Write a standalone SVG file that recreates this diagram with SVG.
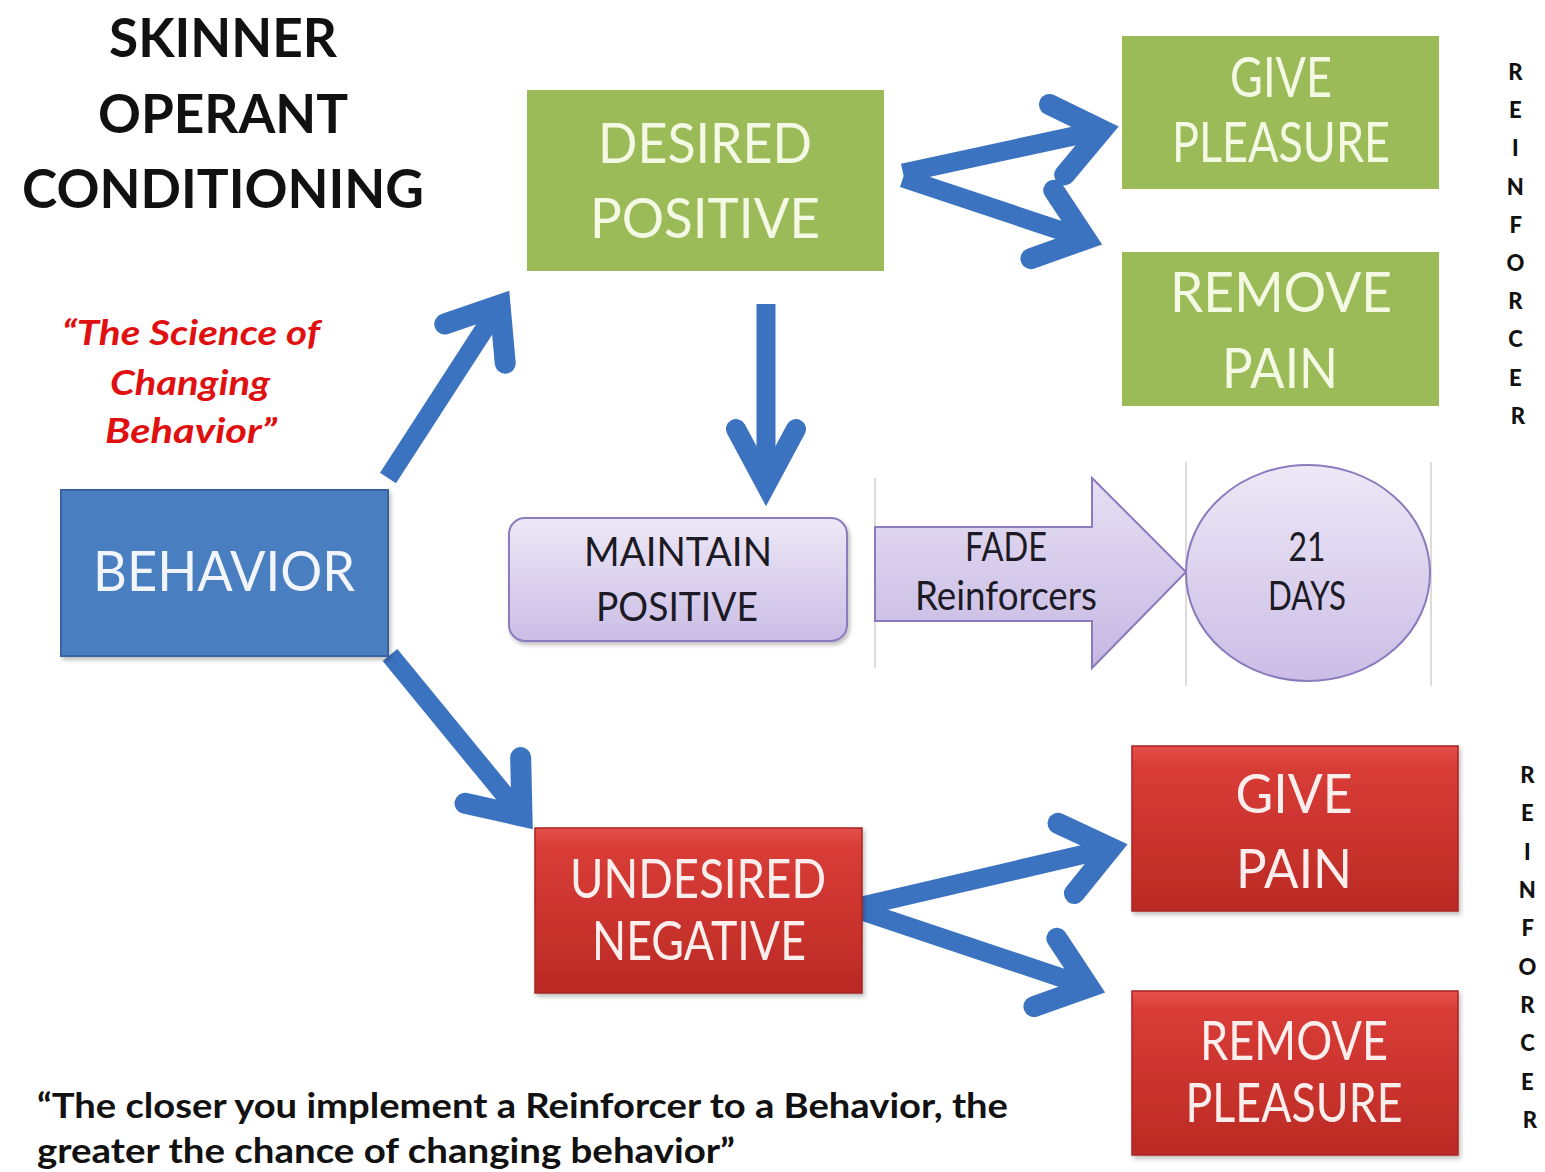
<svg xmlns="http://www.w3.org/2000/svg" width="1545" height="1172" viewBox="0 0 1545 1172">
  <defs>
    <style>
      .t { font-family: Lato, "Open Sans", "Liberation Sans", sans-serif; }
      .title { font-weight: 700; font-size: 54px; fill: #111; }
      .slogan { font-weight: 700; font-style: italic; font-size: 35px; fill: #e01010; }
      .quote { font-weight: 700; font-size: 34px; fill: #111; }
      .lbl-g { font-size: 56px; fill: #f4f9e4; }
      .lbl-b { font-size: 56px; fill: #f2f6fc; }
      .lbl-r { font-size: 54px; fill: #fdeeee; }
      .lbl-p { font-size: 41px; fill: #1c1a24; }
      .vert { font-weight: 900; font-size: 22px; fill: #111; }
      .arrow { fill: none; stroke: #3b73c0; stroke-width: 19; }
      .guide { stroke: #c4c4c4; stroke-width: 1.2; }
    </style>
    <marker id="chev" markerUnits="userSpaceOnUse" viewBox="-80 -70 100 140" refX="0" refY="0" markerWidth="100" markerHeight="140" orient="auto" overflow="visible">
      <path d="M-46,-36 L0,0 L-46,36" fill="none" stroke="#3b73c0" stroke-width="21" stroke-linecap="round" stroke-linejoin="miter" stroke-miterlimit="10"/>
    </marker>
    <marker id="chev-narrow" markerUnits="userSpaceOnUse" viewBox="-80 -70 100 140" refX="0" refY="0" markerWidth="100" markerHeight="140" orient="auto" overflow="visible">
      <path d="M-56,-30 L0,0 L-56,30" fill="none" stroke="#3b73c0" stroke-width="20" stroke-linecap="round" stroke-linejoin="miter" stroke-miterlimit="10"/>
    </marker>
    <linearGradient id="redFill" x1="0" y1="0" x2="0" y2="1">
      <stop offset="0" stop-color="#e5514b"/>
      <stop offset="0.12" stop-color="#d93c36"/>
      <stop offset="1" stop-color="#bb2a25"/>
    </linearGradient>
    <linearGradient id="lilacFill" x1="0" y1="0" x2="0" y2="1">
      <stop offset="0" stop-color="#ede8f6"/>
      <stop offset="1" stop-color="#cbbde6"/>
    </linearGradient>
    <linearGradient id="lilacArrow" x1="0" y1="0" x2="0" y2="1">
      <stop offset="0" stop-color="#e6dff3"/>
      <stop offset="1" stop-color="#c6b7e3"/>
    </linearGradient>
    <filter id="shadow" x="-5%" y="-5%" width="112%" height="115%">
      <feDropShadow dx="2" dy="3" stdDeviation="2" flood-color="#000" flood-opacity="0.25"/>
    </filter>
  </defs>

  <rect width="1545" height="1172" fill="#ffffff"/>

  <!-- Title -->
  <g id="title" class="t title" text-anchor="middle">
    <text x="223" y="57" textLength="228" lengthAdjust="spacingAndGlyphs">SKINNER</text>
    <text x="223" y="133" textLength="250" lengthAdjust="spacingAndGlyphs">OPERANT</text>
    <text x="223" y="208" textLength="402" lengthAdjust="spacingAndGlyphs">CONDITIONING</text>
  </g>

  <!-- Slogan -->
  <g id="slogan" class="t slogan" text-anchor="middle">
    <text x="191" y="345" textLength="258" lengthAdjust="spacingAndGlyphs">“The Science of</text>
    <text x="190" y="395" textLength="160" lengthAdjust="spacingAndGlyphs">Changing</text>
    <text x="191" y="443" textLength="172" lengthAdjust="spacingAndGlyphs">Behavior”</text>
  </g>

  <!-- Guide lines behind the fade sequence -->
  <g id="guides">
    <line class="guide" x1="875" y1="478" x2="875" y2="668"/>
    <line class="guide" x1="1186" y1="462" x2="1186" y2="686"/>
    <line class="guide" x1="1431" y1="462" x2="1431" y2="686"/>
  </g>

  <!-- Connectors -->
  <g id="connectors">
    <line class="arrow" x1="388" y1="478" x2="500" y2="305" marker-end="url(#chev)"/>
    <line class="arrow" x1="766" y1="304" x2="766" y2="485" stroke-width="16" marker-end="url(#chev-narrow)"/>
    <line class="arrow" x1="390" y1="655" x2="522" y2="816" marker-end="url(#chev)"/>
    <line class="arrow" x1="903" y1="173" x2="1102" y2="130" marker-end="url(#chev)"/>
    <line class="arrow" x1="903" y1="178" x2="1086" y2="239" marker-end="url(#chev)"/>
    <line class="arrow" x1="862" y1="906" x2="1111" y2="848" marker-end="url(#chev)"/>
    <line class="arrow" x1="862" y1="911" x2="1089" y2="987" marker-end="url(#chev)"/>
  </g>

  <!-- Behavior -->
  <g id="behavior">
    <rect x="61" y="490" width="327" height="166" fill="#4a7fc1" stroke="#3a62a0" stroke-width="2" filter="url(#shadow)"/>
    <text class="t lbl-b" x="224" y="591" text-anchor="middle" textLength="262" lengthAdjust="spacingAndGlyphs">BEHAVIOR</text>
  </g>

  <!-- Desired positive -->
  <g id="desired-positive">
    <rect x="527" y="90" width="357" height="181" fill="#9bbb59"/>
    <text class="t lbl-g" x="705" y="163" text-anchor="middle" textLength="214" lengthAdjust="spacingAndGlyphs">DESIRED</text>
    <text class="t lbl-g" x="705" y="238" text-anchor="middle" textLength="230" lengthAdjust="spacingAndGlyphs">POSITIVE</text>
  </g>

  <!-- Give pleasure -->
  <g id="give-pleasure">
    <rect x="1122" y="36" width="317" height="153" fill="#9bbb59"/>
    <text class="t lbl-g" x="1281" y="97" text-anchor="middle" font-size="49" textLength="102" lengthAdjust="spacingAndGlyphs">GIVE</text>
    <text class="t lbl-g" x="1281" y="162" text-anchor="middle" font-size="49" textLength="218" lengthAdjust="spacingAndGlyphs">PLEASURE</text>
  </g>

  <!-- Remove pain -->
  <g id="remove-pain">
    <rect x="1122" y="252" width="317" height="154" fill="#9bbb59"/>
    <text class="t lbl-g" x="1281" y="312" text-anchor="middle" textLength="222" lengthAdjust="spacingAndGlyphs">REMOVE</text>
    <text class="t lbl-g" x="1280" y="388" text-anchor="middle" textLength="116" lengthAdjust="spacingAndGlyphs">PAIN</text>
  </g>

  <!-- Reinforcer label (positive side) -->
  <g id="reinforcer-top">
    <text class="t vert" text-anchor="middle">
      <tspan x="1518" y="80">R</tspan>
      <tspan x="1518" y="118">E</tspan>
      <tspan x="1518" y="156">I</tspan>
      <tspan x="1518" y="195">N</tspan>
      <tspan x="1518" y="233">F</tspan>
      <tspan x="1518" y="271">O</tspan>
      <tspan x="1518" y="309">R</tspan>
      <tspan x="1518" y="347">C</tspan>
      <tspan x="1518" y="386">E</tspan>
      <tspan x="1518" y="424">R</tspan>
    </text>
  </g>

  <!-- Maintain positive -->
  <g id="maintain-positive">
    <rect x="509" y="518" width="338" height="123" rx="16" ry="16" fill="url(#lilacFill)" stroke="#8a7bbd" stroke-width="2" filter="url(#shadow)"/>
    <text class="t lbl-p" x="678" y="566" text-anchor="middle" textLength="188" lengthAdjust="spacingAndGlyphs">MAINTAIN</text>
    <text class="t lbl-p" x="677" y="621" text-anchor="middle" textLength="162" lengthAdjust="spacingAndGlyphs">POSITIVE</text>
  </g>

  <!-- Fade reinforcers -->
  <g id="fade-reinforcers">
    <path d="M875,527 L1092,527 L1092,478 L1186,572 L1092,668 L1092,621 L875,621 Z" fill="url(#lilacArrow)" stroke="#8a7bbd" stroke-width="2"/>
    <text class="t lbl-p" x="1006" y="561" text-anchor="middle" font-size="37" textLength="82" lengthAdjust="spacingAndGlyphs">FADE</text>
    <text class="t lbl-p" x="1006" y="610" text-anchor="middle" font-size="37" textLength="182" lengthAdjust="spacingAndGlyphs">Reinforcers</text>
  </g>

  <!-- 21 days -->
  <g id="twenty-one-days">
    <ellipse cx="1308" cy="573" rx="122" ry="108" fill="url(#lilacFill)" stroke="#8a7bbd" stroke-width="2"/>
    <text class="t lbl-p" x="1307" y="561" text-anchor="middle" font-size="37" textLength="37" lengthAdjust="spacingAndGlyphs">21</text>
    <text class="t lbl-p" x="1307" y="610" text-anchor="middle" font-size="37" textLength="78" lengthAdjust="spacingAndGlyphs">DAYS</text>
  </g>

  <!-- Undesired negative -->
  <g id="undesired-negative">
    <rect x="535" y="828" width="327" height="165" fill="url(#redFill)" stroke="#a82420" stroke-width="1.5" filter="url(#shadow)"/>
    <text class="t lbl-r" x="698" y="898" text-anchor="middle" font-size="50" textLength="256" lengthAdjust="spacingAndGlyphs">UNDESIRED</text>
    <text class="t lbl-r" x="699" y="960" text-anchor="middle" font-size="50" textLength="214" lengthAdjust="spacingAndGlyphs">NEGATIVE</text>
  </g>

  <!-- Give pain -->
  <g id="give-pain">
    <rect x="1132" y="746" width="326" height="165" fill="url(#redFill)" stroke="#a82420" stroke-width="1.5" filter="url(#shadow)"/>
    <text class="t lbl-r" x="1294" y="813" text-anchor="middle" textLength="117" lengthAdjust="spacingAndGlyphs">GIVE</text>
    <text class="t lbl-r" x="1294" y="888" text-anchor="middle" textLength="116" lengthAdjust="spacingAndGlyphs">PAIN</text>
  </g>

  <!-- Remove pleasure -->
  <g id="remove-pleasure">
    <rect x="1132" y="991" width="326" height="164" fill="url(#redFill)" stroke="#a82420" stroke-width="1.5" filter="url(#shadow)"/>
    <text class="t lbl-r" x="1294" y="1060" text-anchor="middle" font-size="49" textLength="188" lengthAdjust="spacingAndGlyphs">REMOVE</text>
    <text class="t lbl-r" x="1294" y="1122" text-anchor="middle" font-size="49" textLength="217" lengthAdjust="spacingAndGlyphs">PLEASURE</text>
  </g>

  <!-- Reinforcer label (negative side) -->
  <g id="reinforcer-bottom">
    <text class="t vert" text-anchor="middle">
      <tspan x="1530" y="783">R</tspan>
      <tspan x="1530" y="821">E</tspan>
      <tspan x="1530" y="860">I</tspan>
      <tspan x="1530" y="898">N</tspan>
      <tspan x="1530" y="936">F</tspan>
      <tspan x="1530" y="975">O</tspan>
      <tspan x="1530" y="1013">R</tspan>
      <tspan x="1530" y="1051">C</tspan>
      <tspan x="1530" y="1090">E</tspan>
      <tspan x="1530" y="1128">R</tspan>
    </text>
  </g>

  <!-- Closing quote -->
  <g id="closing-quote" class="t quote">
    <text x="37" y="1118" textLength="971" lengthAdjust="spacingAndGlyphs">“The closer you implement a Reinforcer to a Behavior, the</text>
    <text x="37" y="1163" textLength="698" lengthAdjust="spacingAndGlyphs">greater the chance of changing behavior”</text>
  </g>
</svg>
